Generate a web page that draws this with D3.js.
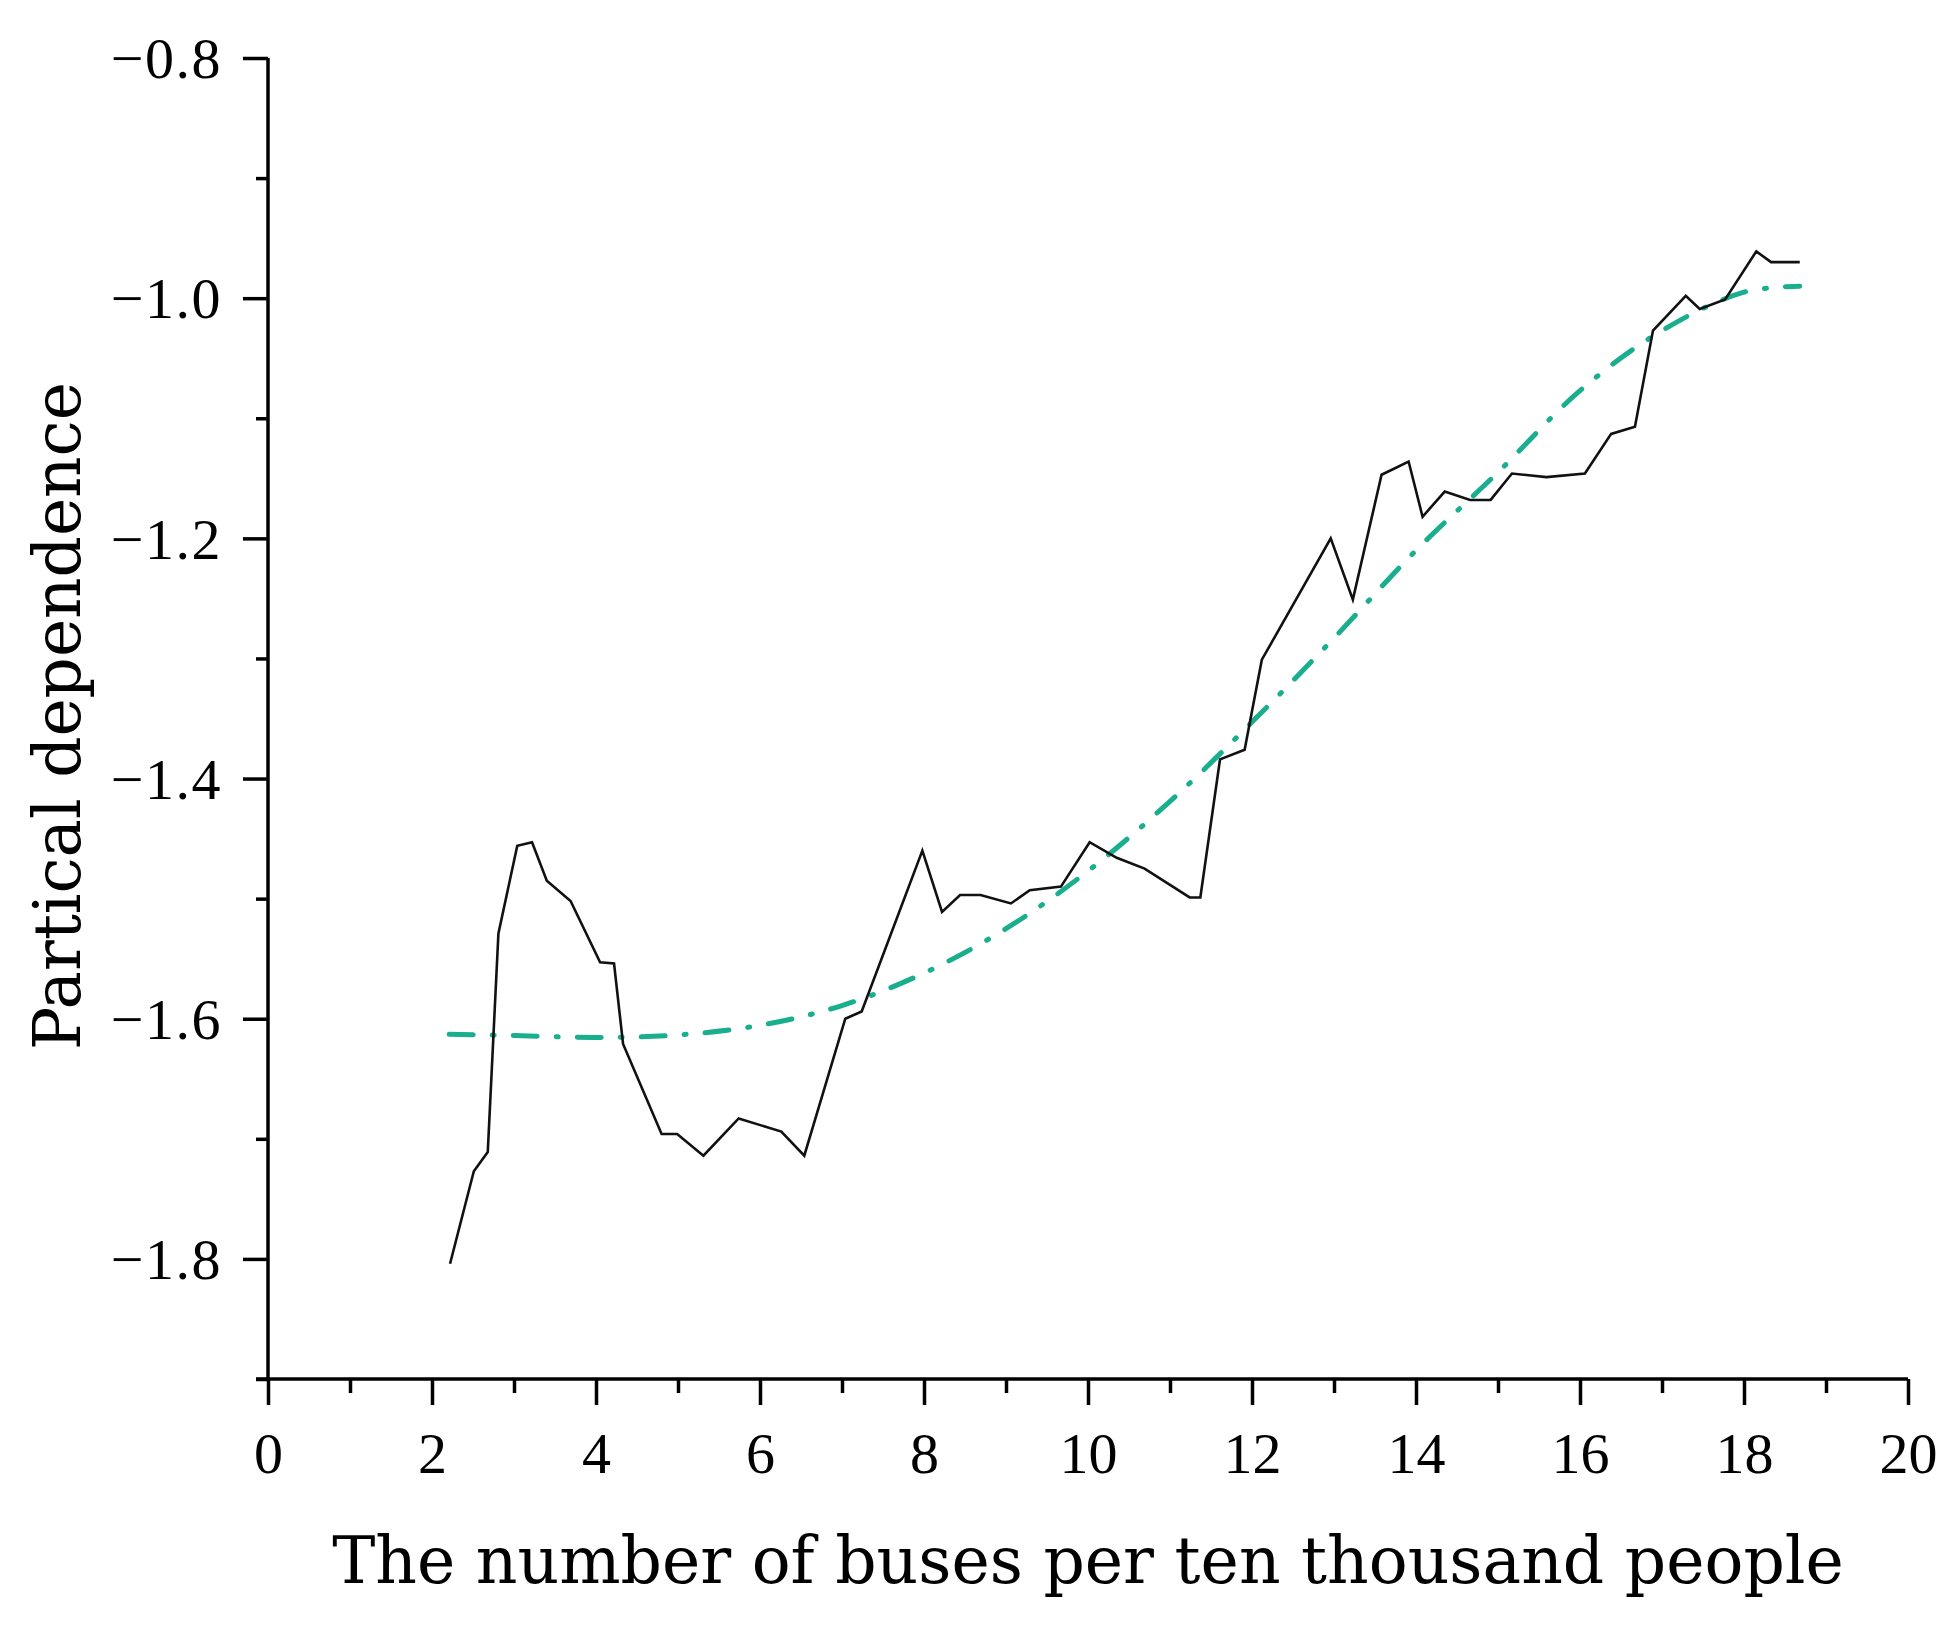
<!DOCTYPE html>
<html>
<head>
<meta charset="utf-8">
<script src="https://cdn.jsdelivr.net/npm/d3@7"></script>
<style>
  html, body { margin: 0; padding: 0; background: #ffffff; }
  svg { display: block; }
</style>
</head>
<body>
<svg id="chart" width="1952" height="1632"></svg>
<script>
// ---- Data ----
const pdX = [2.22, 2.51, 2.68, 2.81, 3.04, 3.22, 3.40, 3.69, 4.05, 4.22, 4.33, 4.80, 4.99, 5.31, 5.74, 6.26, 6.54, 7.04, 7.24, 7.98, 8.22, 8.44, 8.69, 9.06, 9.29, 9.67, 10.02, 10.35, 10.69, 11.24, 11.37, 11.61, 11.91, 12.12, 12.96, 13.23, 13.58, 13.91, 14.08, 14.35, 14.66, 14.91, 15.17, 15.59, 16.06, 16.38, 16.67, 16.89, 17.29, 17.46, 17.77, 18.15, 18.33, 18.68];
const pdY = [-1.804, -1.727, -1.711, -1.529, -1.456, -1.453, -1.485, -1.502, -1.553, -1.554, -1.621, -1.696, -1.696, -1.714, -1.683, -1.694, -1.714, -1.600, -1.594, -1.460, -1.511, -1.497, -1.497, -1.504, -1.493, -1.490, -1.453, -1.466, -1.475, -1.499, -1.499, -1.384, -1.376, -1.301, -1.200, -1.251, -1.147, -1.136, -1.182, -1.161, -1.168, -1.168, -1.146, -1.149, -1.146, -1.113, -1.107, -1.027, -0.998, -1.009, -1.001, -0.961, -0.970, -0.970];

const fitX = [2.21, 3, 4, 5, 6, 7, 8, 9, 10, 11, 12, 13, 14, 15, 16, 17, 18, 18.68];
const fitY = [-1.613, -1.614, -1.6156, -1.6135, -1.6055, -1.589, -1.562, -1.525, -1.477, -1.419, -1.353, -1.283, -1.210, -1.145, -1.077, -1.027, -0.995, -0.990];

const xMajorTicks = [0, 2, 4, 6, 8, 10, 12, 14, 16, 18, 20];
const xMinorTicks = [1, 3, 5, 7, 9, 11, 13, 15, 17, 19];
const yMajorTicks = [-0.8, -1.0, -1.2, -1.4, -1.6, -1.8];
const yMinorTicks = [-0.9, -1.1, -1.3, -1.5, -1.7, -1.9];

const xTitle = "The number of buses per ten thousand people";
const yTitle = "Partical dependence";

// ---- Layout ----
const svg = d3.select("#chart");
const mLeft = 268, mRight = 1908, mTop = 58, mBottom = 1379;

const x = d3.scaleLinear().domain([0, 20]).range([mLeft, mRight]);
const y = d3.scaleLinear().domain([-1.9, -0.8]).range([mBottom, mTop]);

const tickFont = "'Liberation Serif', 'DejaVu Serif', serif";
const titleFont = "'DejaVu Serif', 'Liberation Serif', serif";
const axisColor = "#000";
const axisWidth = 3.5;

// X axis
const gx = svg.append("g").attr("transform", `translate(0,${mBottom})`);
gx.call(d3.axisBottom(x).tickValues(xMajorTicks).tickSize(26).tickPadding(0).tickFormat(d3.format("d")));
const gxMinor = svg.append("g").attr("transform", `translate(0,${mBottom})`);
gxMinor.call(d3.axisBottom(x).tickValues(xMinorTicks).tickSize(14).tickFormat(""));
gxMinor.select(".domain").remove();

// Y axis
const gy = svg.append("g").attr("transform", `translate(${mLeft},0)`);
gy.call(d3.axisLeft(y).tickValues(yMajorTicks).tickSize(25).tickPadding(21).tickFormat(d3.format(".1f")));
const gyMinor = svg.append("g").attr("transform", `translate(${mLeft},0)`);
gyMinor.call(d3.axisLeft(y).tickValues(yMinorTicks).tickSize(12).tickFormat(""));
gyMinor.select(".domain").remove();

// Style axes
svg.selectAll(".domain").attr("stroke", axisColor).attr("stroke-width", axisWidth);
svg.selectAll(".tick line").attr("stroke", axisColor).attr("stroke-width", axisWidth);
gx.select(".domain").attr("d", `M${mLeft - 12},0H${mRight}`);
gy.select(".domain").attr("d", `M0,${mTop}V${mBottom}`);

svg.selectAll(".tick text")
  .attr("font-family", tickFont)
  .attr("font-size", 58)
  .attr("fill", "#000");

gx.selectAll(".tick text").attr("y", 74).attr("dy", "0.35em");
gy.selectAll(".tick text").attr("dy", "0.34em").attr("letter-spacing", 1.5);

// ---- Lines ----
const fitLine = d3.line()
  .x((d, i) => x(fitX[i]))
  .y((d, i) => y(fitY[i]))
  .curve(d3.curveCatmullRom.alpha(0.5));

svg.append("path")
  .datum(fitX)
  .attr("d", fitLine)
  .attr("fill", "none")
  .attr("stroke", "#18ae8e")
  .attr("stroke-width", 5)
  .attr("stroke-linecap", "round")
  .attr("stroke-dasharray", "24,19,2,19");

const pdLine = d3.line()
  .x((d, i) => x(pdX[i]))
  .y((d, i) => y(pdY[i]));

svg.append("path")
  .datum(pdX)
  .attr("d", pdLine)
  .attr("fill", "none")
  .attr("stroke", "#111")
  .attr("stroke-width", 2.6)
  .attr("stroke-linejoin", "miter");

// ---- Titles ----
function fitText(sel, target, base) {
  const len = sel.node().getComputedTextLength();
  sel.attr("font-size", base * target / len);
}

const xt = svg.append("text")
  .attr("x", (mLeft + mRight) / 2)
  .attr("y", 1583)
  .attr("text-anchor", "middle")
  .attr("font-family", titleFont)
  .attr("font-size", 72)
  .attr("fill", "#000")
  .text(xTitle);
fitText(xt, 1512, 72);

const yt = svg.append("text")
  .attr("transform", `translate(80,716) rotate(-90)`)
  .attr("text-anchor", "middle")
  .attr("font-family", titleFont)
  .attr("font-size", 72)
  .attr("fill", "#000")
  .text(yTitle);
fitText(yt, 668, 72);
</script>
</body>
</html>
